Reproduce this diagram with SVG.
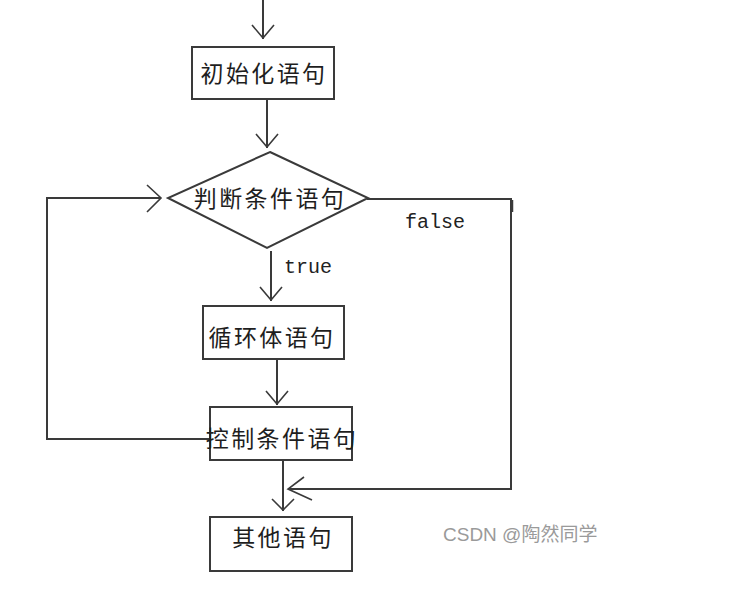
<svg xmlns="http://www.w3.org/2000/svg" width="748" height="589" viewBox="0 0 748 589">
<style>
.ln{fill:none;stroke:#3a3a3a;stroke-width:2;stroke-linecap:square}
.ah{fill:none;stroke:#3a3a3a;stroke-width:1.6;stroke-linejoin:miter}
.box{fill:#fff;stroke:#3a3a3a;stroke-width:2}
.cn{font-family:"Noto Sans CJK SC","Noto Sans CJK JP",sans-serif;font-size:23px;fill:#1e1e1e;text-anchor:middle;letter-spacing:2.4px}
.en{font-family:"Liberation Mono","DejaVu Sans Mono",monospace;font-size:20px;fill:#222}
.wm{font-family:"Liberation Sans","Noto Sans CJK SC",sans-serif;font-size:19px;fill:#9a9a9a}
</style>
<rect width="748" height="589" fill="#fff"/>
<g id="connectors">
  <path class="ln" d="M263 0 V38"/>
  <path class="ah" d="M252 25 L263 38 L274 25"/>
  <path class="ln" d="M267 99 V147"/>
  <path class="ah" d="M256 134 L267 147 L278 134"/>
  <path class="ln" d="M271 252 V300"/>
  <path class="ah" d="M260 287 L271 300 L282 287"/>
  <path class="ln" d="M277 359 V404"/>
  <path class="ah" d="M266 391 L277 404 L288 391"/>
  <path class="ln" d="M283 460 V510"/>
  <path class="ah" d="M272 499 L283 510 L294 499"/>
  <path class="ln" d="M210 439 H47 V198 H160"/>
  <path class="ah" d="M147 185 L161 198 L147 212"/>
  <path class="ln" d="M368 199 H511 V489 H289"/>
  <path class="ah" d="M304 477 L288 489 L312 500"/>
  <path d="M512 200 V212" stroke="#3a3a3a" stroke-width="2.5"/>
  <text class="en" x="405" y="228">false</text>
  <text class="en" x="284" y="273">true</text>
</g>
<g id="init">
  <rect class="box" x="192" y="47" width="142" height="52"/>
  <text class="cn" x="264" y="82">初始化语句</text>
</g>
<g id="cond">
  <polygon class="box" points="270,152 368,198 267,248 168,198"/>
  <text class="cn" x="270" y="207">判断条件语句</text>
</g>
<g id="body">
  <rect class="box" x="203" y="306" width="141" height="53"/>
  <text class="cn" x="272" y="346">循环体语句</text>
</g>
<g id="ctrl">
  <rect class="box" x="210" y="407" width="142" height="53"/>
  <text class="cn" x="282" y="447">控制条件语句</text>
</g>
<g id="other">
  <rect class="box" x="210" y="517" width="142" height="54"/>
  <text class="cn" x="283" y="546">其他语句</text>
</g>
<text class="wm" x="443" y="541">CSDN @陶然同学</text>
</svg>
